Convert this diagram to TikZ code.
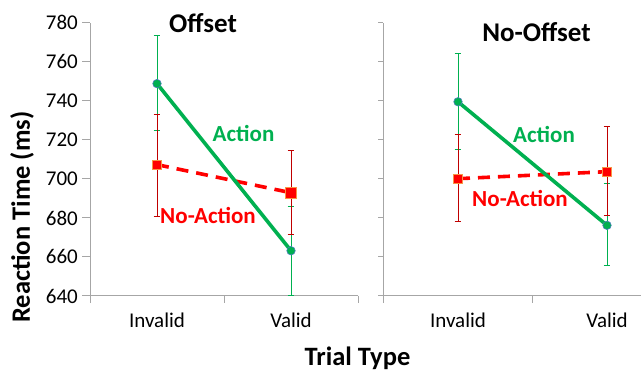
\documentclass[tikz,border=0pt]{standalone}
\usepackage{fontspec}
\setmainfont{Carlito}
\definecolor{actg}{HTML}{00B050}
\definecolor{nared}{HTML}{FF0000}
\definecolor{errred}{HTML}{C00000}
\definecolor{axgray}{HTML}{A6A6A6}
\definecolor{mkblue}{HTML}{4A7EBB}
\definecolor{mkorange}{HTML}{F79646}
\tikzset{
  axisline/.style={draw=axgray, line width=1pt},
  gerr/.style={draw=actg, line width=1pt},
  rerr/.style={draw=errred, line width=1pt},
  actline/.style={draw=actg, line width=3.6pt},
  naline/.style={draw=nared, line width=3.6pt, dash pattern=on 12pt off 8pt},
  gdot/.style={circle, fill=actg, draw=mkblue, line width=0.6pt, inner sep=0pt, minimum size=8.5pt},
  rsq/.style={rectangle, fill=nared, draw=mkorange, line width=0.6pt, inner sep=0pt, minimum size=8.5pt},
  ticklab/.style={font=\fontsize{21}{21}\selectfont, anchor=east, inner sep=0pt},
  catlab/.style={font=\fontsize{21}{21}\selectfont, anchor=base, inner sep=0pt},
  paneltitle/.style={font=\bfseries\fontsize{27}{27}\selectfont, anchor=base, inner sep=0pt},
  serlab/.style={font=\bfseries\fontsize{23}{23}\selectfont, anchor=base, inner sep=0pt},
  axtitle/.style={font=\bfseries\fontsize{26.5}{26.5}\selectfont, anchor=base, inner sep=0pt},
}
\begin{document}
\begin{tikzpicture}[x=1pt,y=1pt]
\useasboundingbox (0,0) rectangle (641,372);
\begin{scope}[y=1.952pt, yshift=-1173.28pt]
  % ---------- axes, left panel ----------
  \coordinate (LO) at (90,640);
  \coordinate (LT) at (90,780);
  \coordinate (LB) at (90,636.4);
  \coordinate (LE) at (358,640);
  \coordinate (LEb) at (358,636.4);
  \coordinate (LM) at (224,640);
  \coordinate (LMb) at (224,636.4);
  \draw[axisline] (LB) -- (LT);
  \draw[axisline] (LO) -- (LE);
  \draw[axisline] (LM) -- (LMb);
  \draw[axisline] (LE) -- (LEb);
  \foreach \v in {640,660,...,780} {
    \coordinate (lt\v) at (82,\v);
    \coordinate (la\v) at (90,\v);
    \draw[axisline] (lt\v) -- (la\v);
    \node[ticklab] (lab\v) at (78,\v) {\v};
  }
  % ---------- axes, right panel ----------
  \coordinate (RO) at (383,640);
  \coordinate (RT) at (383,780);
  \coordinate (RB) at (383,636.4);
  \coordinate (RE) at (641,640);
  \coordinate (RM) at (532,640);
  \coordinate (RMb) at (532,636.4);
  \draw[axisline] (RB) -- (RT);
  \draw[axisline] (RO) -- (RE);
  \draw[axisline] (RM) -- (RMb);
  \foreach \v in {640,660,...,780} {
    \coordinate (rt\v) at (378,\v);
    \coordinate (ra\v) at (383,\v);
    \draw[axisline] (rt\v) -- (ra\v);
  }
  % ---------- error bar end points ----------
  \coordinate (gLiH) at (157,773.4); \coordinate (gLiL) at (157,725);
  \coordinate (gLvH) at (291,685.7); \coordinate (gLvL) at (291,640);
  \coordinate (rLiH) at (157,733.2); \coordinate (rLiL) at (157,680.6);
  \coordinate (rLvH) at (291,714.4); \coordinate (rLvL) at (291,671.6);
  \coordinate (gRiH) at (458,764);   \coordinate (gRiL) at (458,715.3);
  \coordinate (gRvH) at (607,697.7); \coordinate (gRvL) at (607,655.4);
  \coordinate (rRiH) at (458,722.6); \coordinate (rRiL) at (458,678.4);
  \coordinate (rRvH) at (607,726.6); \coordinate (rRvL) at (607,681);
  \foreach \s in {Li,Lv,Ri,Rv} {
    \draw[gerr] (g\s L) -- (g\s H);
    \draw[gerr] ([xshift=-3.3pt]g\s L) -- ([xshift=3.3pt]g\s L);
    \draw[gerr] ([xshift=-3.3pt]g\s H) -- ([xshift=3.3pt]g\s H);
  }
  \foreach \s in {Li,Lv,Ri,Rv} {
    \draw[rerr] (r\s L) -- (r\s H);
    \draw[rerr] ([xshift=-3.3pt]r\s L) -- ([xshift=3.3pt]r\s L);
    \draw[rerr] ([xshift=-3.3pt]r\s H) -- ([xshift=3.3pt]r\s H);
  }
  % ---------- data points ----------
  \coordinate (gLi) at (157,748.8);
  \coordinate (gLv) at (291,663.2);
  \coordinate (rLi) at (157,707.3);
  \coordinate (rLv) at (291,692.9);
  \coordinate (gRi) at (458,739.5);
  \coordinate (gRv) at (607,676.2);
  \coordinate (rRi) at (458,700.1);
  \coordinate (rRv) at (607,703.7);
  \draw[naline] (rLi) -- (rLv);
  \draw[naline] (rRi) -- (rRv);
  \draw[actline] (gLi) -- (gLv);
  \draw[actline] (gRi) -- (gRv);
  \node[rsq] (mrLi) at (rLi) {};
  \node[rsq, minimum size=11.5pt] (mrLv) at (rLv) {};
  \node[rsq] (mrRi) at (rRi) {};
  \node[rsq] (mrRv) at (rRv) {};
  \node[gdot] (mgLi) at (gLi) {};
  \node[gdot] (mgLv) at (gLv) {};
  \node[gdot] (mgRi) at (gRi) {};
  \node[gdot] (mgRv) at (gRv) {};
\end{scope}
% ---------- texts ----------
\node[paneltitle] (t1) at (203,339) {Offset};
\node[paneltitle] (t2) at (536.5,330) {No-Offset};
\node[serlab, text=actg] (a1) at (243.5,230) {Action};
\node[serlab, text=actg] (a2) at (544,229.5) {Action};
\node[serlab, text=nared] (n1) at (208,148) {No-Action};
\node[serlab, text=nared] (n2) at (520,165) {No-Action};
\node[catlab] (c1) at (157,44) {Invalid};
\node[catlab] (c2) at (291,44) {Valid};
\node[catlab] (c3) at (458,44) {Invalid};
\node[catlab] (c4) at (607,44) {Valid};
\node[axtitle] (xt) at (357.5,6.5) {Trial Type};
\node[axtitle, rotate=90] (yt) at (30,155) {Reaction Time (ms)};
\end{tikzpicture}
\end{document}
